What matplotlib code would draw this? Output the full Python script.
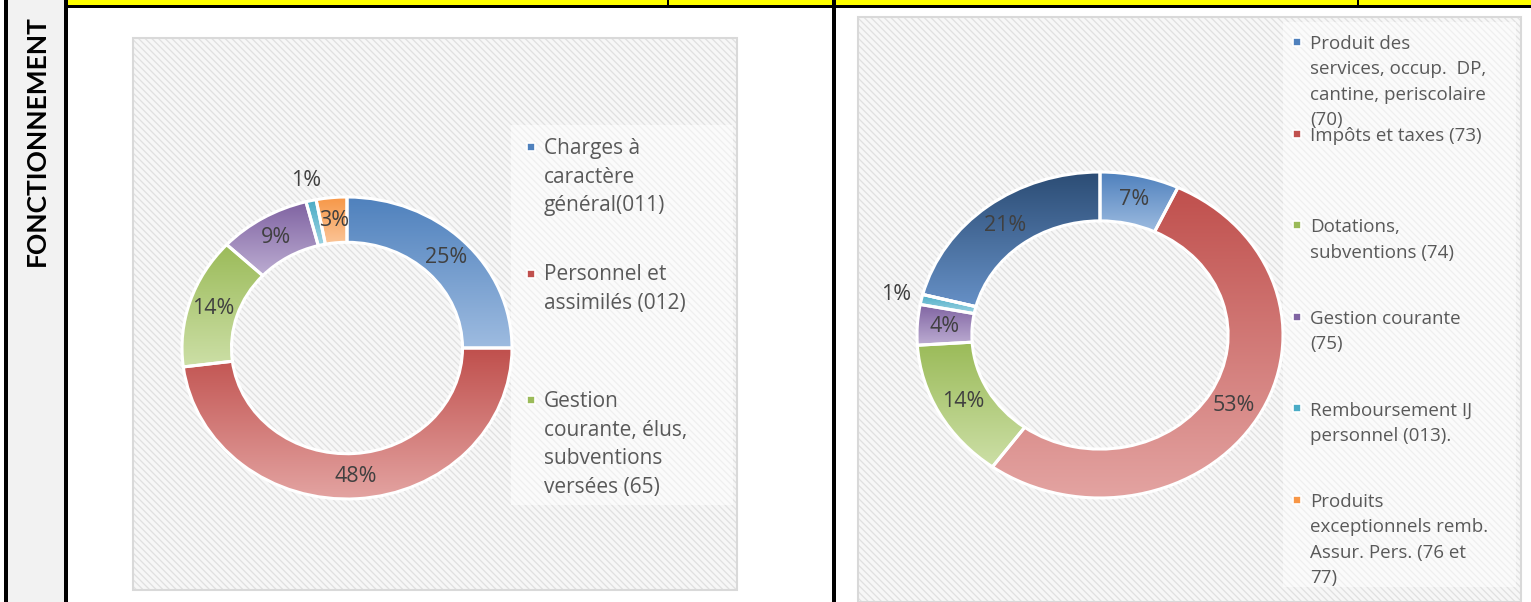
import numpy as np
import matplotlib
matplotlib.use("Agg")
import matplotlib.pyplot as plt
import matplotlib.patches as mpatches
from matplotlib.colors import to_rgb

plt.rcParams['font.family'] = ['Open Sans', 'DejaVu Sans']
plt.rcParams['hatch.linewidth'] = 0.9

# ---------------- data ----------------
side_label = "FONCTIONNEMENT"

dep_labels = ["Charges à\ncaractère\ngénéral(011)",
              "Personnel et\nassimilés (012)",
              "Gestion\ncourante, élus,\nsubventions\nversées (65)",
              "Autres (66)", "Autres (67)", "Autres (68)"]
dep_values = [25, 48, 14, 9, 1, 3]
dep_legend_n = 3

rec_labels = ["Produit des\nservices, occup.  DP,\ncantine, periscolaire\n(70)",
              "Impôts et taxes (73)",
              "Dotations,\nsubventions (74)",
              "Gestion courante\n(75)",
              "Remboursement IJ\npersonnel (013).",
              "Produits\nexceptionnels remb.\nAssur. Pers. (76 et\n77)",
              "Autres (002)"]
rec_values = [7, 53, 14, 4, 1, 0, 21]
rec_legend_n = 6

base_colors = ["#4F81BD", "#C0504D", "#9BBB59", "#8064A2", "#4BACC6", "#F79646", "#2C4D75"]
light_colors = ["#9DBBE0", "#E3A3A1", "#CCDFA6", "#BCACD2", "#9CD3E2", "#FBC597", "#6690C6"]

W, H = 1531, 602
fig = plt.figure(figsize=(W / 100, H / 100), dpi=100)
fig.patch.set_facecolor("white")

bg = fig.add_axes([0, 0, 1, 1])
bg.set_xlim(0, W)
bg.set_ylim(H, 0)
bg.axis("off")

# table frame
bg.add_patch(mpatches.Rectangle((68, 0), W - 68, 4.5, facecolor="#FFFF00", edgecolor="none"))
bg.add_patch(mpatches.Rectangle((8, 0), 56, H, facecolor="#F2F2F2", edgecolor="none"))
bg.add_patch(mpatches.Rectangle((64, 4.5), W - 64, 3.5, facecolor="black", edgecolor="none"))
bg.add_patch(mpatches.Rectangle((4, 0), 4, H, facecolor="black", edgecolor="none"))
bg.add_patch(mpatches.Rectangle((64, 0), 4, H, facecolor="black", edgecolor="none"))
bg.add_patch(mpatches.Rectangle((832, 0), 3.5, H, facecolor="black", edgecolor="none"))
bg.add_patch(mpatches.Rectangle((667, 0), 2, 5, facecolor="black", edgecolor="none"))
bg.add_patch(mpatches.Rectangle((1357, 0), 2, 5, facecolor="black", edgecolor="none"))
bg.text(37, 141, side_label, rotation=90, ha="center", va="center",
        fontsize=19, fontweight="bold", color="black", family=["Lato", "DejaVu Sans"])

# chart boxes (hatched)
def chart_box(x, y, w, h, border=True):
    bg.add_patch(mpatches.Rectangle((x, y), w, h, facecolor="#F7F7F7", edgecolor="#E0E0E0",
                                    lw=0, hatch="\\\\\\\\\\", zorder=1))
    if border:
        bg.add_patch(mpatches.Rectangle((x, y), w, h, facecolor="none", edgecolor="#D9D9D9",
                                        lw=1.5, zorder=2))

chart_box(133, 38, 604, 552)
chart_box(858, 17, 663, 585)

# legend boxes
bg.add_patch(mpatches.Rectangle((511, 125), 222, 380, facecolor="white", edgecolor="none",
                                alpha=0.5, zorder=2))
bg.add_patch(mpatches.Rectangle((1283, 22), 233, 565, facecolor="white", edgecolor="none",
                                alpha=0.5, zorder=2))


def donut(cx, cy, rx, ry, values, n):
    ax = fig.add_axes([(cx - rx) / W, 1 - (cy + ry) / H, 2 * rx / W, 2 * ry / H])
    ax.patch.set_alpha(0)
    vals = values
    wedges, texts, autotexts = ax.pie(
        vals, colors=base_colors[:n], startangle=90, counterclock=False, radius=1,
        autopct=lambda p: ("%d%%" % round(p)) if p >= 0.5 else "",
        pctdistance=0.85, wedgeprops=dict(width=0.3, linewidth=0),
        textprops=dict(fontsize=15.5, color="#404040"))
    for i, w in enumerate(wedges):
        ext = w.get_path().get_extents()
        c0 = np.array(to_rgb(base_colors[i]))
        c1 = np.array(to_rgb(light_colors[i]))
        t = np.linspace(0, 1, 64)[:, None]
        grad = (c0 * (1 - t) + c1 * t)[:, None, :]
        im = ax.imshow(grad, extent=[ext.x0, ext.x1, ext.y0, ext.y1], origin="upper",
                       aspect="auto", zorder=1.5, interpolation="bilinear")
        im.set_clip_path(w)
    # white separators
    ax.pie(vals, colors=["none"] * n, startangle=90, counterclock=False, radius=1,
           wedgeprops=dict(width=0.3, linewidth=2.2, edgecolor="white", zorder=2))
    for i, (w, at) in enumerate(zip(wedges, autotexts)):
        at.set_zorder(5)
        if 0 < values[i] <= 1:
            ang = np.deg2rad((w.theta1 + w.theta2) / 2)
            at.set_position((1.14 * np.cos(ang), 1.14 * np.sin(ang)))
    ax.set_xlim(-1, 1)
    ax.set_ylim(-1, 1)
    ax.set_aspect("auto")
    ax.axis("off")
    return ax


donut(347, 348, 165, 151, dep_values, len(dep_values))
donut(1100, 335, 183, 163, rec_values, len(rec_values))


def legend(x_marker, x_text, y0, step, labels, n, fs, lsp, dy):
    for i in range(n):
        y = y0 + i * step
        bg.add_patch(mpatches.Rectangle((x_marker - 4, y - 4), 8, 8,
                                        facecolor=base_colors[i], edgecolor="white",
                                        lw=1.2, zorder=4))
        bg.text(x_text, y - dy, labels[i], ha="left", va="top", fontsize=fs, color="#595959",
                linespacing=lsp, zorder=4)


legend(531, 544, 147, 126.5, dep_labels, dep_legend_n, 15, 1.48, 9)
legend(1297, 1310, 42, 91.6, rec_labels, rec_legend_n, 13.5, 1.53, 7)

fig.savefig("out.png", dpi=100)
